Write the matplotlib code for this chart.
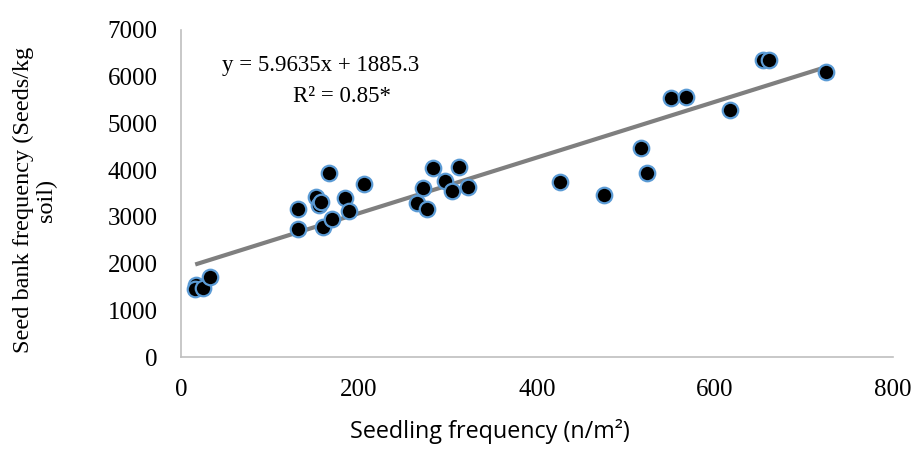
import matplotlib
matplotlib.use("Agg")
import matplotlib.pyplot as plt
import numpy as np

seedling = [17, 16, 25, 33, 132, 131, 152, 155, 157, 159, 166, 170, 184, 189, 206,
            265, 272, 276, 283, 297, 305, 312, 322, 426, 475, 517, 524,
            550, 567, 617, 654, 661, 725]
seedbank = [1542, 1456, 1480, 1713, 3162, 2741, 3433, 3255, 3326, 2789, 3933, 2947, 3394, 3126, 3704,
            3305, 3612, 3162, 4040, 3769, 3555, 4062, 3633, 3754, 3469, 4482, 3933,
            5553, 5559, 5289, 6360, 6360, 6096]
slope, intercept = 5.9635, 1885.3
x_ticks = [0, 200, 400, 600, 800]
y_ticks = [0, 1000, 2000, 3000, 4000, 5000, 6000, 7000]

fig = plt.figure(figsize=(9.17, 4.62), dpi=100)
ax = fig.add_axes([181/917, 1-357/462, (893-181)/917, (357-30)/462])

xs = np.array([min(seedling), max(seedling)])
ax.plot(xs, slope*xs + intercept, color="#7F7F7F", lw=3, zorder=1, solid_capstyle="butt")
ax.scatter(seedling, seedbank, s=125, c="black", edgecolors="#5B9BD5", linewidths=1.6, zorder=2)

ax.set_xlim(0, 800)
ax.set_ylim(0, 7000)
ax.set_xticks(x_ticks)
ax.set_yticks(y_ticks)
serif = "Liberation Serif"
for lab in ax.get_xticklabels() + ax.get_yticklabels():
    lab.set_fontfamily(serif)
    lab.set_fontsize(18)
ax.tick_params(length=0)
ax.tick_params(axis="y", pad=17)
ax.tick_params(axis="x", pad=16)
for s in ["top", "right"]:
    ax.spines[s].set_visible(False)
for s in ["left", "bottom"]:
    ax.spines[s].set_color("#BFBFBF")
    ax.spines[s].set_linewidth(1.2)

ax.set_ylabel("Seed bank frequency (Seeds/kg\nsoil)", fontfamily=serif, fontsize=17.5,
              linespacing=1.1)
ax.yaxis.set_label_coords((57-181)/712, 0.48)

fig.text(490/917, 1-432/462, "Seedling frequency (n/m²)", ha="center", va="center",
         fontfamily="Open Sans", fontsize=16.8)
fig.text(321/917, 1-65/462, "y = 5.9635x + 1885.3", ha="center", va="center",
         fontfamily=serif, fontsize=16.5)
fig.text(342/917, 1-97/462, "R² = 0.85*", ha="center", va="center",
         fontfamily=serif, fontsize=16.5)

fig.savefig("out.png", dpi=100)
